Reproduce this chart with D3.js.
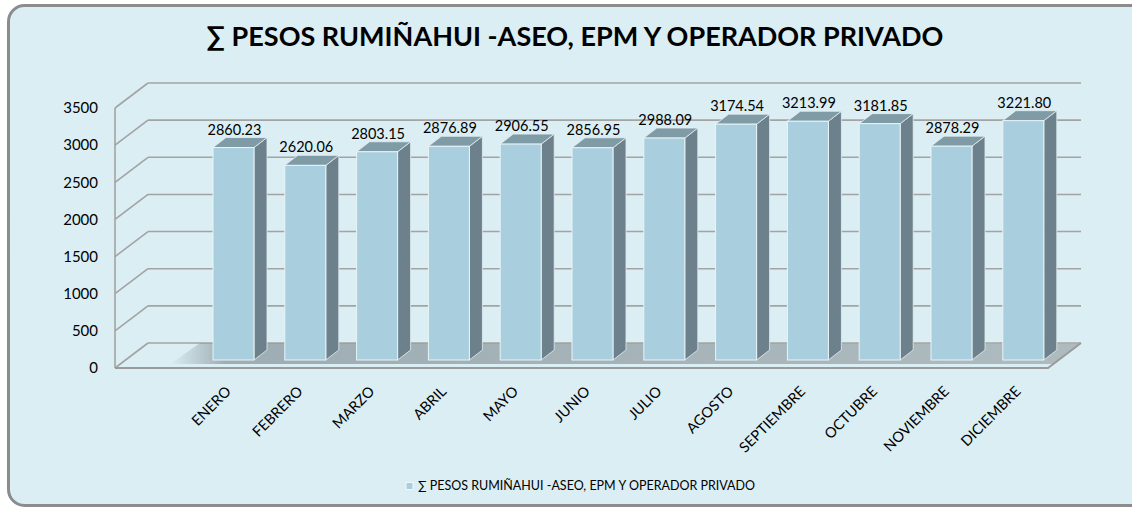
<!DOCTYPE html>
<html lang="es">
<head>
    <meta charset="UTF-8">
    <title>Pesos Rumiñahui</title>
    <script src="https://cdn.jsdelivr.net/npm/d3@7"></script>
    <style>
        body { margin: 0; background: #fff; }
        text { font-family: Lato, "Open Sans", sans-serif; fill: #000; }
    </style>
</head>
<body>
<script>
    // datos
    const meses = ['ENERO', 'FEBRERO', 'MARZO', 'ABRIL', 'MAYO', 'JUNIO', 'JULIO',
        'AGOSTO', 'SEPTIEMBRE', 'OCTUBRE', 'NOVIEMBRE', 'DICIEMBRE'];
    const pesos = [2860.23, 2620.06, 2803.15, 2876.89, 2906.55, 2856.95, 2988.09,
        3174.54, 3213.99, 3181.85, 2878.29, 3221.80];
    const ticks = [0, 500, 1000, 1500, 2000, 2500, 3000, 3500];
    const titulo = '∑ PESOS RUMIÑAHUI -ASEO, EPM Y OPERADOR PRIVADO';

    const w = 1132, h = 509;

    // profundidad de la caja 3D
    const depthX = 33, depthY = -25;
    const frontLeft = 115, frontRight = 1048, floorY = 368;
    // plano de las barras dentro de la caja
    const barShiftY = -8, barDepthX = 13, barDepthY = -10;

    let svg = d3.select('body').append('svg')
        .attr('width', w)
        .attr('height', h);

    let defs = svg.append('defs');
    let sh = defs.append('linearGradient').attr('id', 'sombra')
        .attr('x1', 0).attr('x2', 1).attr('y1', 0).attr('y2', 0);
    sh.append('stop').attr('offset', 0).attr('stop-color', '#8a989e').attr('stop-opacity', 0);
    sh.append('stop').attr('offset', 0.06).attr('stop-color', '#8a989e').attr('stop-opacity', 0.75);
    sh.append('stop').attr('offset', 1).attr('stop-color', '#a3aeb2').attr('stop-opacity', 0.8);

    // marco
    svg.append('rect')
        .attr('x', 8.5).attr('y', 5.5)
        .attr('width', 1150).attr('height', 500)
        .attr('rx', 16)
        .attr('fill', '#dbeef4')
        .attr('stroke', '#8c8c8c')
        .attr('stroke-width', 3);

    svg.append('text')
        .attr('x', 575).attr('y', 46)
        .attr('text-anchor', 'middle')
        .attr('font-size', '27px')
        .attr('font-weight', 'bold')
        .text(titulo);

    let yScale = d3.scaleLinear().domain([0, 3500]).range([floorY, 108]);
    let xScale = d3.scaleBand().domain(meses)
        .range([197.6, 1059.2])
        .paddingInner(0.429)
        .paddingOuter(0.2145);

    let grid = svg.append('g')
        .attr('stroke', '#a3a3a3')
        .attr('stroke-width', 1.6)
        .attr('fill', 'none');

    // paredes: líneas horizontales del fondo y diagonales de la pared izquierda
    grid.selectAll('.back').data(ticks).enter().append('line')
        .attr('x1', frontLeft + depthX).attr('x2', frontRight + depthX)
        .attr('y1', d => yScale(d) + depthY).attr('y2', d => yScale(d) + depthY);
    grid.selectAll('.side').data(ticks).enter().append('line')
        .attr('x1', frontLeft).attr('x2', frontLeft + depthX)
        .attr('y1', d => yScale(d)).attr('y2', d => yScale(d) + depthY);
    grid.append('line')
        .attr('x1', frontLeft).attr('x2', frontLeft)
        .attr('y1', yScale(3500)).attr('y2', floorY);

    // sombra en el piso
    svg.append('polygon')
        .attr('points', [[170, floorY - 4], [frontRight + 5, floorY - 4],
            [frontRight + depthX, floorY + depthY], [200, floorY + depthY]].join(' '))
        .attr('fill', 'url(#sombra)');

    // piso
    svg.append('polyline')
        .attr('points', [[frontLeft, floorY], [frontRight, floorY],
            [frontRight + depthX, floorY + depthY]].join(' '))
        .attr('fill', 'none')
        .attr('stroke', '#9a9a9a')
        .attr('stroke-width', 2);

    let bars = svg.selectAll('.bar').data(meses).enter().append('g');

    bars.each(function (m, i) {
        let g = d3.select(this);
        let x0 = xScale(m), x1 = x0 + xScale.bandwidth();
        let yb = floorY + barShiftY;
        let yt = yb - (floorY - yScale(pesos[i]));
        // lado
        g.append('polygon')
            .attr('points', [[x1, yt], [x1 + barDepthX, yt + barDepthY],
                [x1 + barDepthX, yb + barDepthY], [x1, yb]].join(' '))
            .attr('fill', '#6c818b').attr('stroke', '#e4eff3').attr('stroke-width', 0.8);
        // tapa
        g.append('polygon')
            .attr('points', [[x0, yt], [x0 + barDepthX, yt + barDepthY],
                [x1 + barDepthX, yt + barDepthY], [x1, yt]].join(' '))
            .attr('fill', '#7f9ba6').attr('stroke', '#e4eff3').attr('stroke-width', 0.8);
        // frente
        g.append('rect')
            .attr('x', x0).attr('y', yt)
            .attr('width', x1 - x0).attr('height', yb - yt)
            .attr('fill', '#a9cedd').attr('stroke', '#e8f4f8').attr('stroke-width', 1);
        // etiqueta
        g.append('text')
            .attr('x', (x0 + x1) / 2 + 1).attr('y', yt - 13)
            .attr('text-anchor', 'middle')
            .attr('font-size', '14.5px')
            .text(pesos[i].toFixed(2));
    });

    // eje y
    svg.selectAll('.ytick').data(ticks).enter().append('text')
        .attr('x', 98).attr('y', d => yScale(d))
        .attr('dy', '0.35em')
        .attr('text-anchor', 'end')
        .attr('font-size', '15px')
        .text(d => d);

    // eje x
    svg.selectAll('.xlab').data(meses).enter().append('text')
        .attr('transform', d => 'translate(' + (xScale(d) + xScale.bandwidth() / 2 - 9) + ',385) rotate(-45)')
        .attr('dy', '0.72em')
        .attr('text-anchor', 'end')
        .attr('font-size', '14.5px')
        .text(d => d);

    // leyenda
    svg.append('rect')
        .attr('x', 406).attr('y', 482.5)
        .attr('width', 7).attr('height', 7)
        .attr('fill', '#a9cedd').attr('stroke', '#eef7fa').attr('stroke-width', 1);
    svg.append('text')
        .attr('x', 418).attr('y', 486)
        .attr('dy', '0.35em')
        .attr('font-size', '12.5px')
        .text(titulo);
</script>
</body>
</html>
